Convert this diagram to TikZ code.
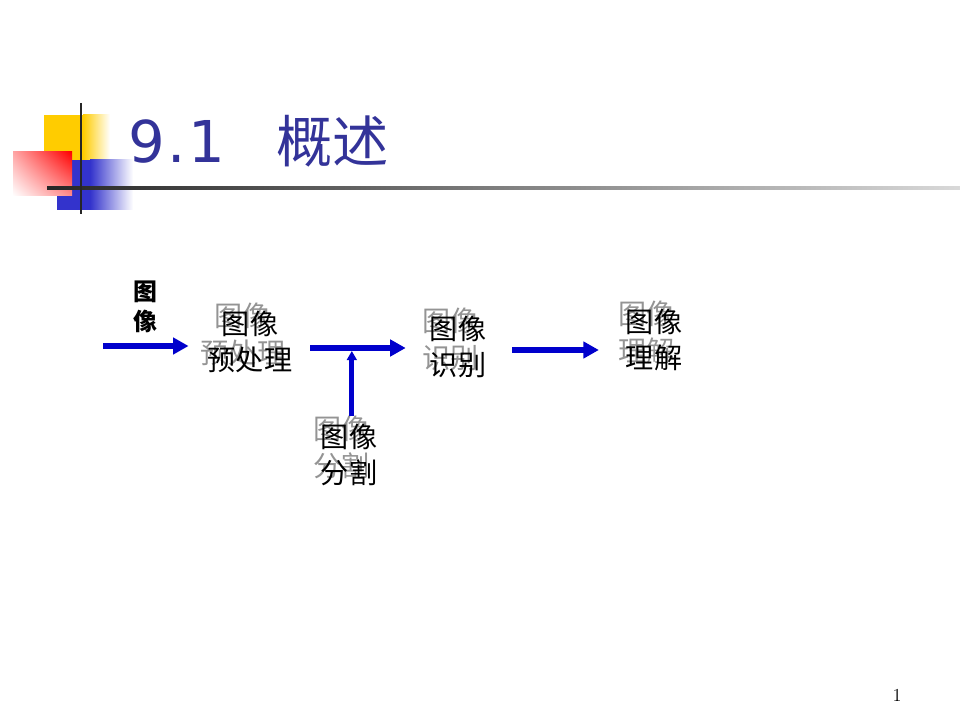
\documentclass[tikz,border=0pt]{standalone}
\usepackage{fontspec}
\usetikzlibrary{arrows.meta,shadings}
\newfontfamily\cjk{Noto Sans CJK SC}
\newfontfamily\titlefont{DejaVu Sans}
\definecolor{titleblue}{RGB}{51,51,153}
\definecolor{arrowblue}{RGB}{0,0,204}
\definecolor{sqyellow}{RGB}{255,204,0}
\definecolor{sqblue}{RGB}{51,51,204}

\begin{document}
\begin{tikzpicture}[x=0.025cm, y=-0.025cm,
  flow/.style={arrowblue, line width=3.6pt, -{Triangle[length=11pt,width=11.5pt]}},
  word/.style={font=\cjk\fontsize{20}{26}\selectfont, align=center, inner sep=0pt},
  shadow/.style={word, text=black!42, xshift=-5pt, yshift=5.5pt}]
  \useasboundingbox (0,0) rectangle (960,720);
  % corner squares and rules
  \fill[sqyellow] (44,115) rectangle (83,160);
  \shade[left color=sqyellow, right color=white] (83,115) rectangle (110,160);
  \fill[sqblue] (57,160) rectangle (90,210);
  \shade[left color=sqblue, right color=white] (90,160) rectangle (133,210);
  \shade[upper right=red, lower left=white, upper left=red!35, lower right=red!45] (13,152) rectangle (72,196);
  \shade[left color=black!85, right color=black!15] (47,186.5) rectangle (960,189.5);
  \draw[black!85, line width=2pt] (81,103) -- (81,214);
  % title
  \node[anchor=base west, inner sep=0pt, text=titleblue, font=\titlefont\fontsize{41}{50}\selectfont] (num) at (128,163) {9\kern2pt.\kern1.5pt1};
  \node[anchor=base west, inner sep=0pt, text=titleblue, font=\cjk\fontsize{40}{48}\selectfont] (head) at (276,163) {概述};
  % flow
  \node[font=\cjk\bfseries\fontsize{17}{21}\selectfont, align=center, inner sep=0pt] (in) at (145,307) {图\\像};
  \node[shadow] (pre-s) at (250,342) {图像\\预处理};
  \node[word] (pre) at (250,342) {图像\\预处理};
  \node[shadow] (rec-s) at (458,347) {图像\\识别};
  \node[word] (rec) at (458,347) {图像\\识别};
  \node[shadow] (und-s) at (654,340) {图像\\理解};
  \node[word] (und) at (654,340) {图像\\理解};
  \node[shadow] (seg-s) at (349,455) {图像\\分割};
  \node[word] (seg) at (349,455) {图像\\分割};
  \coordinate (src) at (103,346);
  \draw[flow, shorten >=13.5pt] (src) -- (pre.west |- src);
  \draw[flow, shorten <=12.5pt, shorten >=17pt] (pre.east |- 0,348) -- (rec.west |- 0,348);
  \draw[flow, shorten <=18.5pt, shorten >=19pt] (rec.east |- 0,350) -- (und.west |- 0,350);
  \draw[arrowblue, line width=3.6pt, -{Triangle[length=6.5pt,width=7pt]}] ([xshift=2pt]seg.north |- seg-s.north) -- ([xshift=2pt]seg.north |- 0,351);
  \node[font=\fontsize{13}{15}\selectfont] (pg) at (897,695) {1};
\end{tikzpicture}
\end{document}
